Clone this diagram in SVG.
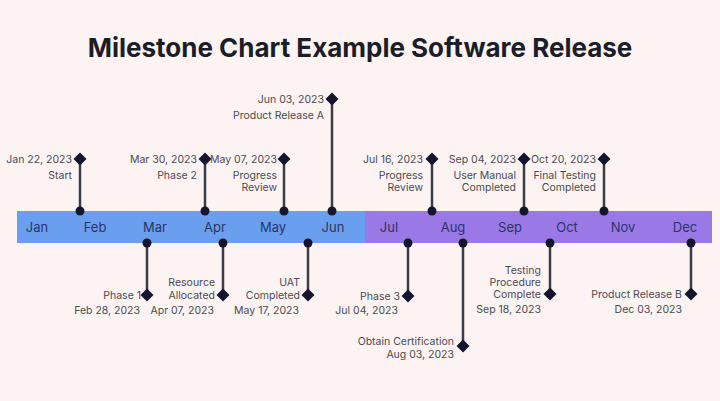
<svg xmlns="http://www.w3.org/2000/svg" xmlns:xlink="http://www.w3.org/1999/xlink" width="720" height="401" viewBox="0 0 720 401">
<defs>
<style>
.title{font-family:Inter,"Liberation Sans",sans-serif;font-size:26px;font-weight:700;fill:#1b1d28;text-anchor:middle}
.mon{font-family:Inter,"Liberation Sans",sans-serif;font-size:13px;fill:#2b3466;text-anchor:middle}
.lbl{font-family:Inter,"Liberation Sans",sans-serif;font-size:10.5px;fill:#4a4a52;text-anchor:end}
.stem{stroke:#3c3c44;stroke-width:2.5;fill:none}
.dot{fill:#15152e}
.dia{fill:#15152e}
</style>
<path id="dm" d="M0,-6.5 L6.5,0 L0,6.5 L-6.5,0Z"/>
</defs>
<rect width="720" height="401" fill="#fdf3f2"/>
<text class="title" x="360" y="57">Milestone Chart Example Software Release</text>

<g id="timeline">
<rect x="17" y="211" width="348" height="32" fill="#6a9ff0"/>
<rect x="365" y="211" width="347" height="32" fill="#9a79e6"/>
<text class="mon" x="37" y="232">Jan</text>
<text class="mon" x="95" y="232">Feb</text>
<text class="mon" x="155" y="232">Mar</text>
<text class="mon" x="215" y="232">Apr</text>
<text class="mon" x="273" y="232">May</text>
<text class="mon" x="333" y="232">Jun</text>
<text class="mon" x="389" y="232">Jul</text>
<text class="mon" x="453" y="232">Aug</text>
<text class="mon" x="510" y="232">Sep</text>
<text class="mon" x="567" y="232">Oct</text>
<text class="mon" x="623" y="232">Nov</text>
<text class="mon" x="685" y="232">Dec</text>
</g>

<g id="connectors">
<line class="stem" x1="80" y1="159" x2="80" y2="211"/>
<line class="stem" x1="205" y1="159" x2="205" y2="211"/>
<line class="stem" x1="284" y1="159" x2="284" y2="211"/>
<line class="stem" x1="332" y1="99" x2="332" y2="211"/>
<line class="stem" x1="432" y1="159" x2="432" y2="211"/>
<line class="stem" x1="524" y1="159" x2="524" y2="211"/>
<line class="stem" x1="604" y1="159" x2="604" y2="211"/>
<line class="stem" x1="147" y1="243" x2="147" y2="295"/>
<line class="stem" x1="223" y1="243" x2="223" y2="295"/>
<line class="stem" x1="308" y1="243" x2="308" y2="295"/>
<line class="stem" x1="408" y1="243" x2="408" y2="296"/>
<line class="stem" x1="463" y1="243" x2="463" y2="346"/>
<line class="stem" x1="550" y1="243" x2="550" y2="294"/>
<line class="stem" x1="691" y1="243" x2="691" y2="294"/>
</g>

<g id="m-jan22">
<circle class="dot" cx="80" cy="211" r="4.5"/>
<use href="#dm" x="80" y="159" class="dia"/>
<text class="lbl" x="72" y="163">Jan 22, 2023</text>
<text class="lbl" x="72" y="179">Start</text>
</g>
<g id="m-mar30">
<circle class="dot" cx="205" cy="211" r="4.5"/>
<use href="#dm" x="205" y="159" class="dia"/>
<text class="lbl" x="197" y="163">Mar 30, 2023</text>
<text class="lbl" x="197" y="179">Phase 2</text>
</g>
<g id="m-may07">
<circle class="dot" cx="284" cy="211" r="4.5"/>
<use href="#dm" x="284" y="159" class="dia"/>
<text class="lbl" x="277" y="163">May 07, 2023</text>
<text class="lbl" x="277" y="179">Progress</text>
<text class="lbl" x="277" y="191">Review</text>
</g>
<g id="m-jun03">
<circle class="dot" cx="332" cy="211" r="4.5"/>
<use href="#dm" x="332" y="99" class="dia"/>
<text class="lbl" x="324" y="103">Jun 03, 2023</text>
<text class="lbl" x="324" y="119">Product Release A</text>
</g>
<g id="m-jul16">
<circle class="dot" cx="432" cy="211" r="4.5"/>
<use href="#dm" x="432" y="159" class="dia"/>
<text class="lbl" x="423" y="163">Jul 16, 2023</text>
<text class="lbl" x="423" y="179">Progress</text>
<text class="lbl" x="423" y="191">Review</text>
</g>
<g id="m-sep04">
<circle class="dot" cx="524" cy="211" r="4.5"/>
<use href="#dm" x="524" y="159" class="dia"/>
<text class="lbl" x="516" y="163">Sep 04, 2023</text>
<text class="lbl" x="516" y="179">User Manual</text>
<text class="lbl" x="516" y="191">Completed</text>
</g>
<g id="m-oct20">
<circle class="dot" cx="604" cy="211" r="4.5"/>
<use href="#dm" x="604" y="159" class="dia"/>
<text class="lbl" x="596" y="163">Oct 20, 2023</text>
<text class="lbl" x="596" y="179">Final Testing</text>
<text class="lbl" x="596" y="191">Completed</text>
</g>

<g id="m-feb28">
<circle class="dot" cx="147" cy="243" r="4.5"/>
<use href="#dm" x="147" y="295" class="dia"/>
<text class="lbl" x="141" y="299">Phase 1</text>
<text class="lbl" x="140" y="314">Feb 28, 2023</text>
</g>
<g id="m-apr07">
<circle class="dot" cx="223" cy="243" r="4.5"/>
<use href="#dm" x="223" y="295" class="dia"/>
<text class="lbl" x="215" y="286">Resource</text>
<text class="lbl" x="215" y="299">Allocated</text>
<text class="lbl" x="214" y="314">Apr 07, 2023</text>
</g>
<g id="m-may17">
<circle class="dot" cx="308" cy="243" r="4.5"/>
<use href="#dm" x="308" y="295" class="dia"/>
<text class="lbl" x="300" y="286">UAT</text>
<text class="lbl" x="300" y="299">Completed</text>
<text class="lbl" x="299" y="314">May 17, 2023</text>
</g>
<g id="m-jul04">
<circle class="dot" cx="408" cy="243" r="4.5"/>
<use href="#dm" x="408" y="296" class="dia"/>
<text class="lbl" x="400" y="300">Phase 3</text>
<text class="lbl" x="398" y="314">Jul 04, 2023</text>
</g>
<g id="m-aug03">
<circle class="dot" cx="463" cy="243" r="4.5"/>
<use href="#dm" x="463" y="346" class="dia"/>
<text class="lbl" x="454" y="345">Obtain Certification</text>
<text class="lbl" x="454" y="358">Aug 03, 2023</text>
</g>
<g id="m-sep18">
<circle class="dot" cx="550" cy="243" r="4.5"/>
<use href="#dm" x="550" y="294" class="dia"/>
<text class="lbl" x="541" y="274">Testing</text>
<text class="lbl" x="541" y="286">Procedure</text>
<text class="lbl" x="541" y="298">Complete</text>
<text class="lbl" x="541" y="313">Sep 18, 2023</text>
</g>
<g id="m-dec03">
<circle class="dot" cx="691" cy="243" r="4.5"/>
<use href="#dm" x="691" y="294" class="dia"/>
<text class="lbl" x="682" y="298">Product Release B</text>
<text class="lbl" x="682" y="313">Dec 03, 2023</text>
</g>
</svg>
